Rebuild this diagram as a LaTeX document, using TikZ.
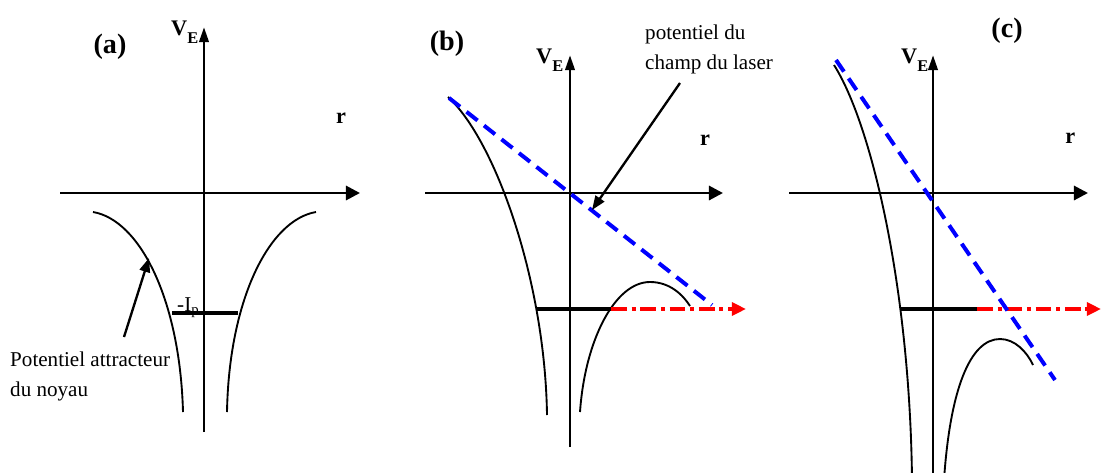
\documentclass[tikz,border=0pt]{standalone}
\usepackage{fontspec}
\setmainfont{Liberation Serif}
\usetikzlibrary{arrows.meta}
\newcommand{\VE}{V\raisebox{-0.37em}{\fontsize{14pt}{14pt}\selectfont E}}
\begin{document}
\begin{tikzpicture}[x=0.03cm,y=-0.03cm,
    axe/.style={line width=2.5pt,-{Triangle[length=12pt,width=12pt]}},
    axev/.style={line width=2.5pt,-{Triangle[length=13pt,width=8pt]}},
    courbe/.style={line width=1.6pt},
    niveau/.style={line width=3.4pt},
    laser/.style={blue,line width=3.4pt,dash pattern=on 12pt off 7pt},
    fuite/.style={red,line width=3.4pt,dash pattern=on 13.5pt off 4pt on 3.5pt off 4pt,-{Triangle[length=12pt,width=11pt]}},
    fleche/.style={line width=2pt,-{Triangle[length=12pt,width=9pt]}},
    lbl/.style={inner sep=0pt,font=\fontsize{18pt}{25.6pt}\selectfont},
    titre/.style={inner sep=0pt,font=\fontsize{24pt}{28pt}\selectfont\bfseries},
    axelbl/.style={inner sep=0pt,font=\fontsize{19pt}{22pt}\selectfont\bfseries}]
  \useasboundingbox (0,0) rectangle (1101,472);
  \clip (0,0) rectangle (1101,472);
  % (a)
  \coordinate (aW) at (60,193); \coordinate (aE) at (360,193);
  \coordinate (aS) at (204,432); \coordinate (aN) at (204,27);
  \draw[axe] (aW) -- (aE);
  \draw[axev] (aS) -- (aN);
  \node[titre,anchor=base] (ta) at (110,53) {(a)};
  \node[axelbl,anchor=base west] (vea) at (171,35) {\VE};
  \node[axelbl,anchor=base west] (ra) at (336,123) {r};
  \draw[courbe] (93,212) .. controls (140,220) and (180,300) .. (183,412);
  \draw[courbe] (316,212) .. controls (269,220) and (229,300) .. (227,412);
  \draw[niveau] (172,313) -- (238,313);
  \node[lbl,anchor=base west] (ip) at (177,311) {-I\textsubscript{p}};
  \node[lbl,anchor=north west,align=left] (noyau) at (10,352) {Potentiel attracteur\\du noyau};
  \coordinate (noyauDep) at (124,337); \coordinate (noyauPt) at (149,258);
  \draw[fleche] (noyauDep) -- (noyauPt);
  % (b)
  \coordinate (bW) at (425,193); \coordinate (bE) at (723,193);
  \coordinate (bS) at (570,447); \coordinate (bN) at (570,55);
  \draw[axe] (bW) -- (bE);
  \draw[axev] (bS) -- (bN);
  \node[titre,anchor=base] (tb) at (447,50) {(b)};
  \node[axelbl,anchor=base west] (veb) at (536,63) {\VE};
  \node[axelbl,anchor=base west] (rb) at (700,145) {r};
  \draw[courbe] (448,97) .. controls (495,140) and (545,280) .. (547,415);
  \draw[courbe] (580,412) .. controls (585,340) and (615,282) .. (650,282)
    .. controls (670,282) and (683,295) .. (690,306);
  \coordinate (bIp) at (537,309); \coordinate (bSort) at (611,309); \coordinate (bFin) at (746,309);
  \draw[niveau] (bIp) -- (bSort);
  \draw[fuite] (bSort) -- (bFin);
  \draw[laser] (449,98) -- (712,305);
  \node[lbl,anchor=north west,align=left] (champ) at (645,25) {potentiel du\\champ du laser};
  \coordinate (champDep) at (680,83); \coordinate (champPt) at (592,210);
  \draw[fleche] (champDep) -- (champPt);
  % (c)
  \coordinate (cW) at (789,193); \coordinate (cE) at (1088,193);
  \coordinate (cS) at (933,480); \coordinate (cN) at (933,55);
  \draw[axe] (cW) -- (cE);
  \draw[axev] (cS) -- (cN);
  \node[titre,anchor=base] (tc) at (1007,37) {(c)};
  \node[axelbl,anchor=base west] (vec) at (901,63) {\VE};
  \node[axelbl,anchor=base west] (rc) at (1065,143) {r};
  \draw[courbe] (834,65) .. controls (872,125) and (910,290) .. (912,480);
  \draw[courbe] (944,480) .. controls (950,390) and (970,339) .. (1000,339)
    .. controls (1015,339) and (1027,352) .. (1033,365);
  \coordinate (cIp) at (900,309); \coordinate (cSort) at (977,309); \coordinate (cFin) at (1101,309);
  \draw[niveau] (cIp) -- (cSort);
  \draw[fuite] (cSort) -- (cFin);
  \draw[laser] (836,60) -- (1055,380);
\end{tikzpicture}
\end{document}
